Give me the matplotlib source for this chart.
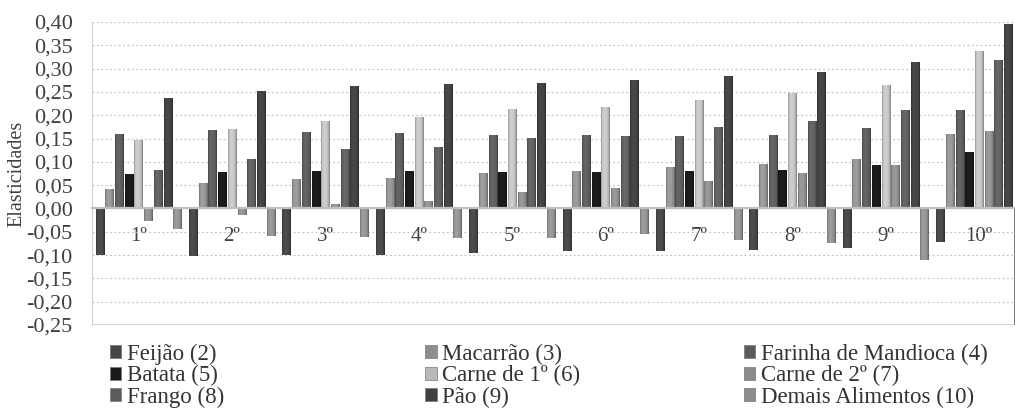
import numpy as np
import matplotlib
matplotlib.use('Agg')
import matplotlib.pyplot as plt
import matplotlib.colors as mcolors
from matplotlib.patches import Patch
from matplotlib.ticker import FuncFormatter

# dados (elasticidades por decil)
decis = ['1º', '2º', '3º', '4º', '5º', '6º', '7º', '8º', '9º', '10º']

feijao = [-0.099, -0.102, -0.100, -0.099, -0.095, -0.092, -0.091, -0.089, -0.085, -0.072]
macarrao = [0.039, 0.053, 0.062, 0.064, 0.075, 0.078, 0.087, 0.094, 0.104, 0.158]
farinha = [0.157, 0.166, 0.161, 0.159, 0.156, 0.155, 0.154, 0.156, 0.171, 0.209]
batata = [0.072, 0.076, 0.078, 0.078, 0.076, 0.076, 0.079, 0.081, 0.091, 0.119]
carne1 = [0.145, 0.169, 0.186, 0.194, 0.211, 0.216, 0.231, 0.245, 0.263, 0.336]
carne2 = [-0.026, -0.013, 0.007, 0.015, 0.033, 0.041, 0.057, 0.073, 0.092, 0.164]
frango = [0.080, 0.103, 0.125, 0.130, 0.149, 0.154, 0.172, 0.186, 0.210, 0.316]
pao = [0.235, 0.249, 0.260, 0.265, 0.267, 0.273, 0.282, 0.291, 0.313, 0.394]
demais = [-0.044, -0.060, -0.061, -0.064, -0.064, -0.055, -0.068, -0.074, -0.110, -0.250]

series = [
    ('Feijão (2)', feijao, '#454545'),
    ('Macarrão (3)', macarrao, '#8e8e8e'),
    ('Farinha de Mandioca (4)', farinha, '#5a5a5a'),
    ('Batata (5)', batata, '#1a1a1a'),
    ('Carne de 1º (6)', carne1, '#b9b9b9'),
    ('Carne de 2º (7)', carne2, '#8a8a8a'),
    ('Frango (8)', frango, '#5c5c5c'),
    ('Pão (9)', pao, '#404040'),
    ('Demais Alimentos (10)', demais, '#8c8c8c'),
]

plt.rcParams['font.family'] = ['Liberation Serif', 'DejaVu Serif']
plt.rcParams['axes.unicode_minus'] = False

fig = plt.figure(figsize=(10.15, 4.08), dpi=100)
fig.patch.set_facecolor('white')
# a área do gráfico passa um pouco da borda direita, como no original
ax = fig.add_axes([0.0906, 0.2034, 0.920, 0.7426])


def shade_bar(ax, rect, color):
    """pinta a barra com um degradê horizontal (efeito 3D do Excel)"""
    base = np.array(mcolors.to_rgb(color))
    t = np.linspace(0, 1, 40)
    f = 1.12 - 0.9 * (t - 0.42) ** 2
    f[:3] *= 0.85
    f[-3:] *= 0.8
    img = np.clip(base[None, :] * f[:, None], 0, 1)[None, :, :]
    x0, y0 = rect.get_x(), rect.get_y()
    w, h = rect.get_width(), rect.get_height()
    ax.imshow(img, extent=[x0, x0 + w, y0, y0 + h], aspect='auto',
              interpolation='bilinear', zorder=3)


n = len(series)
slot = 0.934 / n
x = np.arange(len(decis))
handles = []
for i, (label, vals, color) in enumerate(series):
    pos = x - 0.467 + slot * (i + 0.5)
    bars = ax.bar(pos, vals, width=slot * 0.86, color=color, zorder=2, linewidth=0)
    for b in bars:
        shade_bar(ax, b, color)
    handles.append(Patch(facecolor=color, edgecolor='#777777', linewidth=0.5, label=label))

ax.set_xlim(-0.5, len(decis) - 0.5)
ax.set_ylim(-0.25, 0.40)
ax.set_yticks(np.arange(-0.25, 0.401, 0.05))
ax.yaxis.set_major_formatter(FuncFormatter(lambda v, p: f'{v:.2f}'.replace('.', ',').replace('-0,00', '0,00')))
ax.tick_params(axis='y', length=0, pad=14, labelsize=16, labelcolor='#404040')
ax.set_ylabel('Elasticidades', fontsize=14.5, color='#404040', labelpad=0)

# linhas de grade pontilhadas
ax.set_axisbelow(True)
ax.yaxis.grid(True, linestyle=(0, (1.5, 2)), color='#c4c4c4', linewidth=0.9)

# eixo das categorias passa no zero
ax.spines['bottom'].set_position(('data', 0))
ax.spines['bottom'].set_color('#c0c0c0')
ax.spines['bottom'].set_linewidth(1.6)
ax.spines['bottom'].set_zorder(4)
ax.spines['left'].set_color('#d0d0d0')
ax.spines['top'].set_visible(False)
ax.spines['right'].set_visible(False)
ax.axhline(-0.25, color='#d0d0d0', linewidth=1.2, zorder=1)
ax.set_xticks(x)
ax.set_xticklabels(decis)
ax.tick_params(axis='x', length=0, pad=13, labelsize=15, labelcolor='#404040')

# legenda em três colunas, preenchida por linha
cols_x = [0.108, 0.419, 0.733]
for c in range(3):
    leg = fig.legend(handles=handles[c::3], loc='upper left', bbox_to_anchor=(cols_x[c], 0.158),
                     frameon=False, fontsize=16.5, handlelength=0.5, handleheight=0.5,
                     handletextpad=0.25, labelspacing=0.02, borderaxespad=0, borderpad=0)
    for t in leg.get_texts():
        t.set_color('#333333')

fig.savefig('out.png', dpi=100, facecolor=fig.get_facecolor())
